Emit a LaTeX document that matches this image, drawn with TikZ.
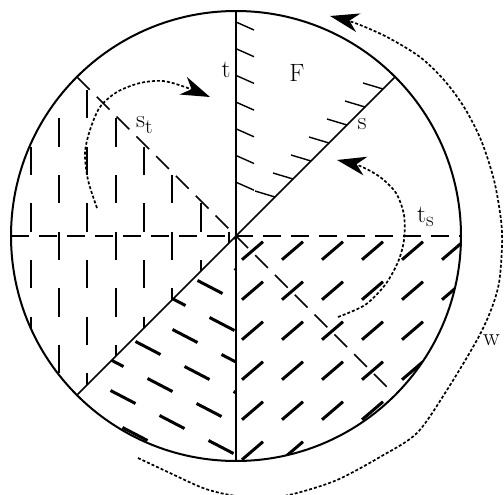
\documentclass[tikz,border=0pt]{standalone}
\usepackage{fontspec}
\usetikzlibrary{arrows.meta}
\begin{document}
\begin{tikzpicture}[x=1pt,y=-1pt,
  solidline/.style={line width=1.6pt},
  rim/.style={line width=2pt},
  dashline/.style={line width=1.6pt, dash pattern=on 18pt off 10pt},
  vstroke/.style={line width=2pt},
  hstroke/.style={line width=3pt},
  tickmark/.style={line width=1.4pt},
  dotarrow/.style={line width=1.7pt, dash pattern=on 3pt off 2pt,
     -{Stealth[length=29pt,width=19pt,inset=9pt]}},
  lab/.style={font=\fontsize{25}{29}\selectfont, inner sep=0pt, anchor=base}]
\useasboundingbox (0,0) rectangle (504,495);
\clip (0,0) rectangle (504,495);

\coordinate (C) at (236,236);
\coordinate (T) at (236,11);
\coordinate (B) at (236,461);
\coordinate (L) at (11,236);
\coordinate (R) at (461,236);
\coordinate (SU) at (395,77);
\coordinate (SD) at (77,395);
\coordinate (STU) at (77,77);
\coordinate (STD) at (389,389);

% vertical strokes (between s_t and s, left)
\begin{scope}
  \clip (C) circle[radius=225];
  \clip (C) -- (-100,-100) -- (-100,572) -- cycle;
  \foreach \i in {0,...,7}{
    \foreach \k in {-2,...,6}{
      \pgfmathsetmacro{\xx}{30.7+28.33*\i}
      \pgfmathsetmacro{\yy}{90+28.33*mod(\i,2)+56.67*\k}
      \draw[vstroke] (\xx,\yy) -- (\xx,\yy+28.33);
    }
  }
\end{scope}

% "\" strokes (between s and t, lower left)
\begin{scope}
  \clip (C) circle[radius=225];
  \clip (C) -- (-100,572) -- (236,572) -- cycle;
  \foreach \m in {-5,...,5}{
    \foreach \n in {-5,...,5}{
      \pgfmathsetmacro{\cx}{148+37*\m+12*\n}
      \pgfmathsetmacro{\cy}{348-12*\m+37*\n}
      \draw[hstroke] (\cx-12.5,\cy-6.5) -- (\cx+12.5,\cy+6.5);
    }
  }
\end{scope}

% "/" strokes (lower right quadrant)
\begin{scope}
  \clip (C) circle[radius=225];
  \clip (C) rectangle (520,520);
  \foreach \i in {0,...,5}{
    \foreach \j in {0,...,5}{
      \pgfmathsetmacro{\cx}{252.5+40*\i}
      \pgfmathsetmacro{\cy}{250.7+40*\j}
      \draw[hstroke] (\cx-10.5,\cy+9) -- (\cx+10.5,\cy-9);
    }
  }
\end{scope}

% ticks of region F
\foreach \k in {0,...,6}{
  \pgfmathsetmacro{\ty}{22+26.7*\k}
  \draw[tickmark] (236,\ty) -- (254,\ty+8);
  \pgfmathsetmacro{\sx}{275+18*\k}
  \pgfmathsetmacro{\sy}{236-(\sx-236)}
  \draw[tickmark] (\sx,\sy) -- (\sx-20,\sy-6);
}

% circle and lines
\draw[rim] (C) circle[radius=225];
\draw[solidline] (T) -- (B);
\draw[solidline] (SD) -- (SU);
\draw[dashline] (L) -- (R);
\draw[dashline] (STU) -- (STD);

% labels
\node[lab] (lt) at (226,78) {t};
\node[lab] (lF) at (297,82) {F};
\node[lab] (ls) at (362,130) {s};
\node[lab, anchor=base west] (lst) at (136,128) {s\raisebox{-6pt}{\fontsize{21}{21}\selectfont t}};
\node[lab, anchor=base west] (lts) at (417,222) {t\raisebox{-5pt}{\fontsize{21}{21}\selectfont s}};
\node[lab, anchor=base west] (lw) at (483,345) {w};

% dotted arrows
\draw[dotarrow] plot[smooth] coordinates {(97,208) (88,180) (85,153) (90,130) (100,107) (117,92) (140,83) (163,81) (185,87) (210,97)};
\draw[dotarrow] plot[smooth] coordinates {(338,317) (365,305) (385,285) (398,262) (404,240) (404,215) (396,193) (380,177) (360,166) (337,160)};
\draw[dotarrow] plot[smooth] coordinates {(138,458) (170,473) (203,488) (230,495) (264,499) (297,493) (337,480) (380,457) (417,433) (447,390) (477,340) (491,310) (499,283) (502,247) (501,220) (494,180) (481,140) (464,107) (444,80) (420,57) (387,37) (355,23) (330,16)};
\end{tikzpicture}
\end{document}
